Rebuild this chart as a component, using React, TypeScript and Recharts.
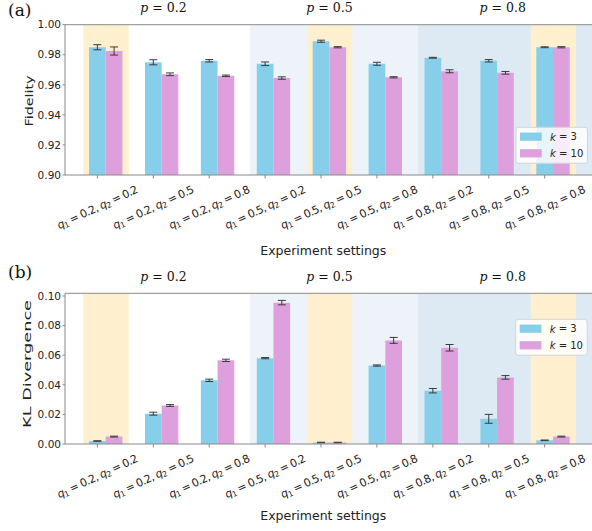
import React from 'react';
import { BarChart, Bar, XAxis, YAxis, ErrorBar, ReferenceArea, ReferenceLine } from 'recharts';

// ---------- data ----------
const q1Values = ['0.2', '0.2', '0.2', '0.5', '0.5', '0.5', '0.8', '0.8', '0.8'];
const q2Values = ['0.2', '0.5', '0.8', '0.2', '0.5', '0.8', '0.2', '0.5', '0.8'];
const pLabels = ['0.2', '0.5', '0.8'];
const seriesK = ['3', '10'];

const fidelityK3 = [0.985, 0.975, 0.976, 0.974, 0.989, 0.974, 0.978, 0.976, 0.985];
const fidelityK3Err = [0.0017, 0.0017, 0.0008, 0.0012, 0.0007, 0.001, 0.0003, 0.0008, 0.0003];
const fidelityK10 = [0.9825, 0.967, 0.966, 0.9645, 0.985, 0.965, 0.969, 0.968, 0.985];
const fidelityK10Err = [0.0027, 0.0009, 0.0005, 0.0008, 0.0004, 0.0004, 0.001, 0.0009, 0.0004];

const klK3 = [0.002, 0.0205, 0.043, 0.058, 0.001, 0.053, 0.036, 0.017, 0.0025];
const klK3Err = [0.0002, 0.001, 0.0008, 0.0004, 0.0002, 0.0004, 0.0015, 0.003, 0.0002];
const klK10 = [0.005, 0.026, 0.0565, 0.0955, 0.001, 0.07, 0.065, 0.045, 0.005];
const klK10Err = [0.0003, 0.0006, 0.0008, 0.0015, 0.0002, 0.002, 0.0022, 0.0012, 0.0003];

const fidelityTicks = [0.9, 0.92, 0.94, 0.96, 0.98, 1.0];
const klTicks = [0, 0.02, 0.04, 0.06, 0.08, 0.1];

// ---------- styles / layout ----------
const COLOR_K3 = '#87CEEB';
const COLOR_K10 = '#DDA0DD';
const YELLOW = '#FEF0CE';
const BLUE_P5 = '#EEF3FA';
const BLUE_P8 = '#DEEAF3';
const SPINE = '#8a8a8a';
const TXT = '#222';
const SANS = 'DejaVu Sans, Verdana, sans-serif';
const SERIF = 'DejaVu Serif, serif';

const W = 592;
const PLOT_L = 65;
const BAND = 55.91;
const PAD_L = 13.04;
const PAD_R = (W - PLOT_L) - 9 * BAND - PAD_L;
const X_MIN = -0.5793;
const X_MAX = 8.8466;
const tickIdx = [0, 1, 2, 3, 4, 5, 6, 7, 8];
const diagIdx = [0, 4, 8];

const makeRows = (a: number[], ae: number[], b: number[], be: number[]) =>
  q1Values.map((_, i) => ({ idx: i, name: `c${i}`, k3: a[i], k3Err: ae[i], k10: b[i], k10Err: be[i] }));

const fidelityRows = makeRows(fidelityK3, fidelityK3Err, fidelityK10, fidelityK10Err);
const klRows = makeRows(klK3, klK3Err, klK10, klK10Err);

const XTick = (props: any) => {
  const { x, y, payload } = props;
  const i = Math.round(payload.value);
  return (
    <g transform={`translate(${x},${y + 26.5}) rotate(-25)`}>
      <text
        textAnchor="middle"
        dominantBaseline="central"
        fontFamily={SANS}
        fontSize={11}
        fill={TXT}
        textLength={88}
        lengthAdjust="spacing"
      >
        <tspan fontStyle="italic">q</tspan>
        <tspan fontSize={7.8} dy={2.8}>1</tspan>
        <tspan dy={-2.8}>{` = ${q1Values[i]}, `}</tspan>
        <tspan fontStyle="italic">q</tspan>
        <tspan fontSize={7.8} dy={2.8}>2</tspan>
        <tspan dy={-2.8}>{` = ${q2Values[i]}`}</tspan>
      </text>
    </g>
  );
};

type PanelProps = {
  top: number;
  height: number;
  marginTop: number;
  marginBottom: number;
  rows: any[];
  yDomain: [number, number];
  yTicks: number[];
};

const Panel = ({ top, height, marginTop, marginBottom, rows, yDomain, yTicks }: PanelProps) => (
  <div style={{ position: 'absolute', left: 0, top, width: W, height }}>
    <BarChart
      width={W}
      height={height}
      data={rows}
      margin={{ top: marginTop, right: 0, bottom: marginBottom, left: 0 }}
      barGap={0}
    >
      <XAxis
        xAxisId={0}
        type="number"
        dataKey="idx"
        domain={[X_MIN, X_MAX]}
        allowDataOverflow
        ticks={tickIdx}
        interval={0}
        height={60}
        tickSize={3.5}
        tickMargin={2}
        axisLine={{ stroke: SPINE }}
        tickLine={{ stroke: SPINE }}
        tick={<XTick />}
      />
      <XAxis xAxisId="cat" type="category" dataKey="name" hide padding={{ left: PAD_L, right: PAD_R }} />
      <YAxis
        type="number"
        domain={yDomain}
        allowDataOverflow
        ticks={yTicks}
        interval={0}
        width={PLOT_L}
        tickSize={2.5}
        tickMargin={1.5}
        tickFormatter={(v: number) => v.toFixed(2)}
        tick={{ fontSize: 10.5, fill: TXT, fontFamily: SANS }}
        axisLine={{ stroke: SPINE }}
        tickLine={{ stroke: SPINE }}
      />
      <ReferenceArea x1={2.73} x2={5.73} fill={BLUE_P5} fillOpacity={1} stroke="none" ifOverflow="hidden" />
      <ReferenceArea x1={5.73} x2={X_MAX} fill={BLUE_P8} fillOpacity={1} stroke="none" ifOverflow="hidden" />
      {diagIdx.map((i) => (
        <ReferenceArea key={i} x1={i - 0.25} x2={i + 0.56} fill={YELLOW} fillOpacity={1} stroke="none" ifOverflow="hidden" />
      ))}
      <Bar xAxisId="cat" dataKey="k3" fill={COLOR_K3} barSize={16.7} isAnimationActive={false}>
        <ErrorBar dataKey="k3Err" width={4} stroke="#3a3a3a" strokeWidth={1} direction="y" />
      </Bar>
      <Bar xAxisId="cat" dataKey="k10" fill={COLOR_K10} barSize={16.7} isAnimationActive={false}>
        <ErrorBar dataKey="k10Err" width={4} stroke="#3a3a3a" strokeWidth={1} direction="y" />
      </Bar>
      <ReferenceLine y={yDomain[1]} stroke={SPINE} strokeWidth={1} />
    </BarChart>
  </div>
);

const LegendBox = ({ x, y }: { x: number; y: number }) => (
  <g>
    <rect x={x} y={y} width={71.5} height={36} rx={2.5} fill="#fff" fillOpacity={0.8} stroke="#d4d4d4" strokeWidth={1} />
    {seriesK.map((k, j) => (
      <g key={k}>
        <rect x={x + 4} y={y + 5.3 + j * 16.6} width={21.7} height={8.2} fill={j === 0 ? COLOR_K3 : COLOR_K10} />
        <text x={x + 34} y={y + 9.4 + j * 16.6} dominantBaseline="central" fontFamily={SANS} fontSize={10} fill={TXT}>
          <tspan fontStyle="italic">k</tspan>
          {` = ${k}`}
        </text>
      </g>
    ))}
  </g>
);

const pCenters = [163.5, 329.5, 502.7];

const Overlay = () => (
  <svg width={W} height={531} style={{ position: 'absolute', left: 0, top: 0, pointerEvents: 'none' }}>
    {/* panel a */}
    <text x={8} y={15.5} fontFamily={SERIF} fontSize={17} fill="#111">(a)</text>
    {pLabels.map((p, j) => (
      <text key={`a${p}`} x={pCenters[j]} y={11.7} textAnchor="middle" fontFamily={SERIF} fontSize={12.5} fill="#111">
        <tspan fontStyle="italic">p</tspan>
        {` = ${p}`}
      </text>
    ))}
    <text
      transform="translate(32.5,101) rotate(-90)"
      textAnchor="middle"
      fontFamily={SANS}
      fontSize={11}
      fill={TXT}
      textLength={51}
      lengthAdjust="spacingAndGlyphs"
    >
      Fidelity
    </text>
    <text x={323.3} y={254.5} textAnchor="middle" fontFamily={SANS} fontSize={12.5} fill={TXT}>
      Experiment settings
    </text>
    <LegendBox x={516} y={127.3} />

    {/* panel b */}
    <text x={8} y={278} fontFamily={SERIF} fontSize={17} fill="#111">(b)</text>
    {pLabels.map((p, j) => (
      <text key={`b${p}`} x={pCenters[j]} y={280.7} textAnchor="middle" fontFamily={SERIF} fontSize={12.5} fill="#111">
        <tspan fontStyle="italic">p</tspan>
        {` = ${p}`}
      </text>
    ))}
    <text
      transform="translate(30.7,364) rotate(-90)"
      textAnchor="middle"
      fontFamily={SANS}
      fontSize={11}
      fill={TXT}
      textLength={128}
      lengthAdjust="spacingAndGlyphs"
    >
      KL Divergence
    </text>
    <text x={323.3} y={520} textAnchor="middle" fontFamily={SANS} fontSize={12.5} fill={TXT}>
      Experiment settings
    </text>
    <LegendBox x={515.7} y={319.3} />
  </svg>
);

export default function App() {
  return (
    <div style={{ position: 'absolute', left: 0, top: 0, width: W, height: 531, background: '#fff', overflow: 'hidden' }}>
      <Panel top={0} height={265} marginTop={24.7} marginBottom={30} rows={fidelityRows} yDomain={[0.9, 1.0]} yTicks={fidelityTicks} />
      <Panel top={266} height={265} marginTop={27.3} marginBottom={27} rows={klRows} yDomain={[0, 0.1018]} yTicks={klTicks} />
      <Overlay />
    </div>
  );
}
